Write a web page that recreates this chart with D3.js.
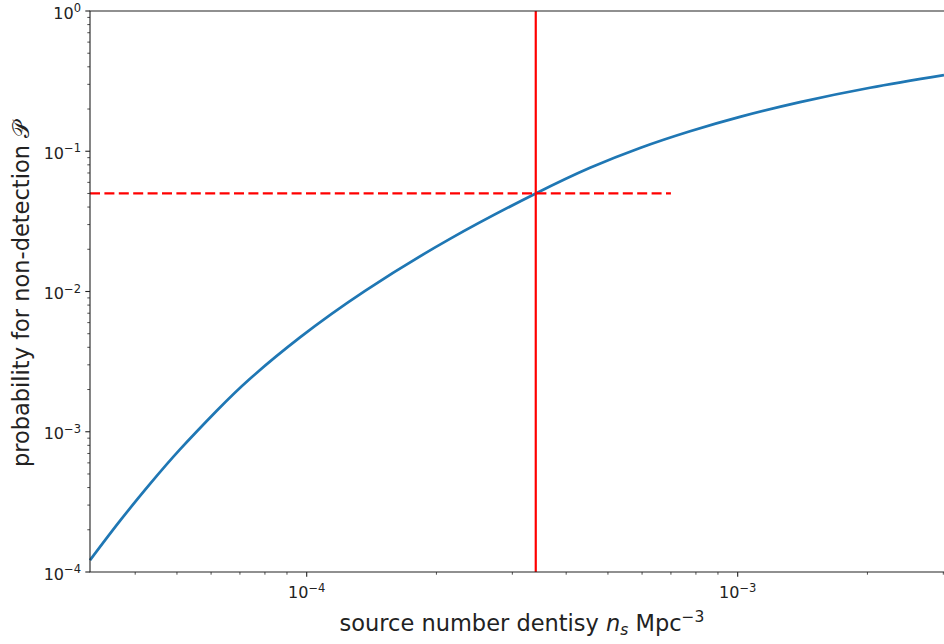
<!DOCTYPE html>
<html>
<head>
<meta charset="utf-8">
<script src="https://cdn.jsdelivr.net/npm/d3@7"></script>
<style>
  html, body { margin: 0; padding: 0; background: #fff; }
  svg { display: block; font-family: "DejaVu Sans", sans-serif; }
</style>
</head>
<body>
<div id="chart"></div>
<script>
// curve (source density vs non-detection probability)
const density = [3.142e-5, 3.687e-5, 4.33e-5, 5.082e-5, 6.2e-5, 7.386e-5, 9.648e-5, 1.366e-4, 2.15e-4, 3.40e-4, 4.543e-4, 5.934e-4, 7.752e-4, 1.012e-3, 1.395e-3, 2.028e-3, 3.011e-3];
const probability = [1.214e-4, 2.314e-4, 4.243e-4, 7.478e-4, 1.423e-3, 2.388e-3, 4.706e-3, 1.01e-2, 2.372e-2, 5.0e-2, 7.625e-2, 0.1056, 0.1389, 0.1759, 0.224, 0.2837, 0.3489];

// reference lines
const threshold = 0.05;
const thresholdEnd = 7e-4;
const criticalDensity = 3.4e-4;

const xMajor = [1e-4, 1e-3];
const yMajor = [1e-4, 1e-3, 1e-2, 1e-1, 1e0];
const xExp = ["\u22124", "\u22123"];
const yExp = ["\u22124", "\u22123", "\u22122", "\u22121", "0"];

const width = 944;
const height = 644;
const margin = { left: 90, top: 11, bottom: 72 };

const x = d3.scaleLog().domain([3.142e-5, 3.011e-3]).range([margin.left, width]);
const y = d3.scaleLog().domain([1e-4, 1]).range([height - margin.bottom, margin.top]);

const svg = d3.select("#chart").append("svg")
  .attr("width", width)
  .attr("height", height);

// minor ticks
const xMinor = [];
[1e-5, 1e-4, 1e-3].forEach((d) => {
  for (let k = 2; k <= 9; k++) {
    const v = d * k;
    if (v >= x.domain()[0] && v <= x.domain()[1]) xMinor.push(v);
  }
});
const yMinor = [];
[1e-4, 1e-3, 1e-2, 1e-1].forEach((d) => {
  for (let k = 2; k <= 9; k++) yMinor.push(d * k);
});

const axisCol = "#222";

// data lines
const line = d3.line()
  .x((d, i) => x(density[i]))
  .y((d) => y(d))
  .curve(d3.curveNatural);

svg.append("path")
  .datum(probability)
  .attr("fill", "none")
  .attr("stroke", "#1f77b4")
  .attr("stroke-width", 2.7)
  .attr("d", line);

svg.append("line")
  .attr("x1", x(x.domain()[0]))
  .attr("x2", x(thresholdEnd))
  .attr("y1", y(threshold))
  .attr("y2", y(threshold))
  .attr("stroke", "red")
  .attr("stroke-width", 2.2)
  .attr("stroke-dasharray", "10,4.4");

svg.append("line")
  .attr("x1", x(criticalDensity))
  .attr("x2", x(criticalDensity))
  .attr("y1", y(1))
  .attr("y2", y(1e-4))
  .attr("stroke", "red")
  .attr("stroke-width", 2.2);

// spines
const x0 = margin.left, y0 = height - margin.bottom, yTop = margin.top;
svg.append("path")
  .attr("d", `M${width},${yTop}H${x0}V${y0}H${width}`)
  .attr("fill", "none")
  .attr("stroke", axisCol)
  .attr("stroke-width", 1.1);

// x ticks
svg.selectAll(".xmaj").data(xMajor).join("line")
  .attr("x1", (d) => x(d)).attr("x2", (d) => x(d))
  .attr("y1", y0).attr("y2", y0 + 4.7)
  .attr("stroke", axisCol).attr("stroke-width", 1.1);
svg.selectAll(".xmin").data(xMinor).join("line")
  .attr("x1", (d) => x(d)).attr("x2", (d) => x(d))
  .attr("y1", y0).attr("y2", y0 + 2.7)
  .attr("stroke", axisCol).attr("stroke-width", 0.8);

// y ticks
svg.selectAll(".ymaj").data(yMajor).join("line")
  .attr("x1", x0 - 4.7).attr("x2", x0)
  .attr("y1", (d) => y(d)).attr("y2", (d) => y(d))
  .attr("stroke", axisCol).attr("stroke-width", 1.1);
svg.selectAll(".ymin").data(yMinor).join("line")
  .attr("x1", x0 - 2.7).attr("x2", x0)
  .attr("y1", (d) => y(d)).attr("y2", (d) => y(d))
  .attr("stroke", axisCol).attr("stroke-width", 0.8);

// tick labels
const xl = svg.selectAll(".xlab").data(xMajor).join("text")
  .attr("x", (d) => x(d))
  .attr("y", y0 + 26)
  .attr("text-anchor", "middle")
  .attr("font-size", 16)
  .attr("fill", "#222");
xl.append("tspan").text("10");
xl.append("tspan").attr("dy", -6.5).attr("font-size", 11.5).text((d, i) => xExp[i]);

const yl = svg.selectAll(".ylab").data(yMajor).join("text")
  .attr("x", x0 - 9)
  .attr("y", (d) => y(d) + 7.5)
  .attr("text-anchor", "end")
  .attr("font-size", 16)
  .attr("fill", "#222");
yl.append("tspan").text("10");
yl.append("tspan").attr("dy", -6.5).attr("font-size", 11.5).text((d, i) => yExp[i]);

// axis titles
const xt = svg.append("text")
  .attr("x", (x0 + width) / 2 + 5)
  .attr("y", 631)
  .attr("text-anchor", "middle")
  .attr("font-size", 22.5)
  .attr("fill", "#222");
xt.append("tspan").text("source number dentisy ");
xt.append("tspan").attr("font-style", "italic").text("n");
xt.append("tspan").attr("dy", 4).attr("font-size", 15.5).attr("font-style", "italic").text("s");
xt.append("tspan").attr("dy", -4).text(" Mpc");
xt.append("tspan").attr("dy", -9).attr("font-size", 15.5).text("\u22123");

svg.append("text")
  .attr("transform", `translate(29,294) rotate(-90)`)
  .attr("text-anchor", "middle")
  .attr("font-size", 22.5)
  .attr("fill", "#222")
  .text("probability for non-detection \ud835\udcab");
</script>
</body>
</html>
